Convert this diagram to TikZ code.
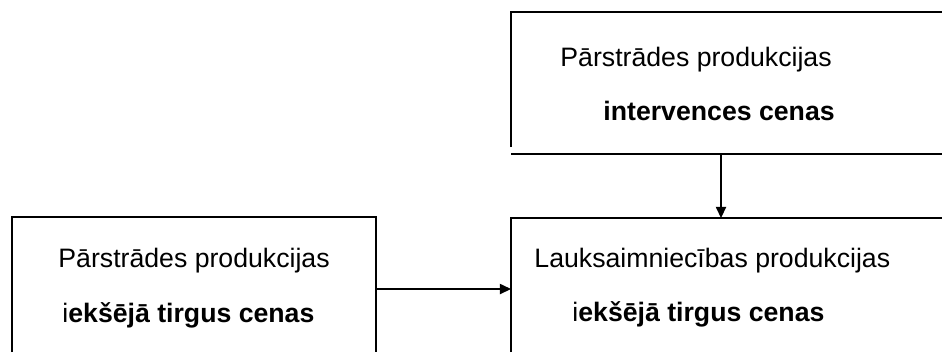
\documentclass[tikz,border=0pt]{standalone}
\usepackage{fontspec}
\setmainfont{Liberation Sans}
\usetikzlibrary{arrows.meta,positioning}

\begin{document}
\begin{tikzpicture}[x=0.45pt,y=-0.45pt,
every node/.style = {anchor=base west, inner sep=0pt,
	font=\fontsize{12}{14}\selectfont},
frame/.style = {line width=0.8pt},
link/.style = {line width=0.6pt, -{Triangle[length=5pt,width=4.6pt]}}]
\useasboundingbox (0,0) rectangle (942,359);
% box corners (the boxes run off the page)
\coordinate (top-nw) at (511,12);
\coordinate (top-sw) at (511,147);
\coordinate (right-nw) at (511,218);
\coordinate (right-sw) at (511,352);
\coordinate (left-nw) at (12,217);
\coordinate (left-ne) at (376,217);
\coordinate (left-sw) at (12,352);
\coordinate (left-se) at (376,352);
\coordinate (top-out) at (721,154);
\coordinate (right-in) at (721,218);
\coordinate (left-out) at (376,289);
\coordinate (right-side) at (511,289);
% frames
\draw[frame] (top-sw) -- (top-nw) -- (942,12);
\draw[frame] (511,154) -- (942,154);
\draw[frame] (right-sw) -- (right-nw) -- (942,218);
\draw[frame] (left-sw) -- (left-nw) -- (left-ne) -- (left-se);
% texts
\node (interv-a) at (560,66) {Pārstrādes produkcijas};
\node (interv-b) at (603,120) {\textbf{intervences cenas}};
\node (proc-a) at (58,267) {Pārstrādes produkcijas};
\node (proc-b) at (62,322) {i\textbf{ekšējā tirgus cenas}};
\node (agri-a) at (534,267) {Lauksaimniecības produkcijas};
\node (agri-b) at (572,321) {i\textbf{ekšējā tirgus cenas}};
% arrows
\draw[link] (top-out) -- (right-in);
\draw[link] (left-out) -- (right-side);
\end{tikzpicture}
\end{document}
